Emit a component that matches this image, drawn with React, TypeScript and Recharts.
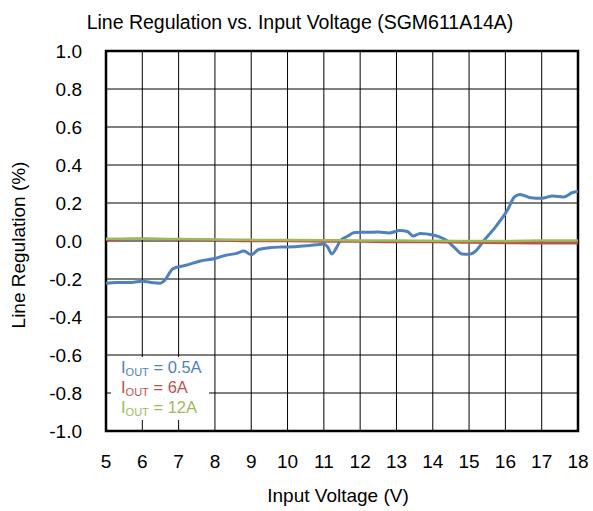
import { LineChart, Line, XAxis, YAxis, CartesianGrid, ReferenceArea, Label } from "recharts";

// IOUT = 0.5A
const voltsLight = [
  5.0, 5.3, 5.7, 6.0, 6.3, 6.5, 6.6, 6.85, 7.2, 7.6, 8.0, 8.3, 8.6, 8.8, 9.0, 9.2, 9.5, 9.8,
  10.2, 10.5, 10.8, 11.0, 11.1, 11.22, 11.35, 11.45, 11.65, 11.85, 12.2, 12.5, 12.8, 13.1, 13.3,
  13.46, 13.65, 14.0, 14.2, 14.4, 14.6, 14.8, 15.0, 15.15, 15.4, 15.75, 16.05, 16.25, 16.4, 16.7,
  17.0, 17.3, 17.6, 17.85, 18.0,
];
const regLight = [
  -0.222, -0.218, -0.218, -0.212, -0.22, -0.222, -0.21, -0.145, -0.128, -0.105, -0.092, -0.075,
  -0.065, -0.053, -0.072, -0.045, -0.036, -0.032, -0.03, -0.025, -0.02, -0.016, -0.03, -0.068,
  -0.035, 0.0, 0.025, 0.045, 0.046, 0.047, 0.042, 0.055, 0.05, 0.026, 0.04, 0.032, 0.02, 0.0,
  -0.035, -0.068, -0.07, -0.058, 0.0, 0.08, 0.16, 0.232, 0.245, 0.228, 0.225, 0.237, 0.232,
  0.255, 0.26,
];

// IOUT = 6A and 12A share the same input sweep
const voltsHeavy = [5, 6, 7, 8, 9, 10, 11, 12, 13, 14, 15, 16, 17, 18];
const regMid = [0.005, 0.012, 0.008, 0.005, 0.0, 0.0, -0.002, -0.003, -0.005, -0.005, -0.008, -0.01, -0.012, -0.012];
const regHigh = [0.012, 0.012, 0.01, 0.008, 0.006, 0.005, 0.004, 0.003, 0.002, 0.001, 0.0, 0.0, 0.002, 0.002];

const xTicks = [5, 6, 7, 8, 9, 10, 11, 12, 13, 14, 15, 16, 17, 18];
const yTicks = [-1.0, -0.8, -0.6, -0.4, -0.2, 0.0, 0.2, 0.4, 0.6, 0.8, 1.0];

const toRows = (xs: number[], ys: number[]) => xs.map((v, i) => ({ v, reg: ys[i] }));

const FONT = "'Liberation Sans', Arial, sans-serif";
const BLUE = "#4F81BD";
const RED = "#C0504D";
const GREEN = "#9BBB59";
const textStyle = { fontSize: 19, fill: "#000", fontFamily: FONT };

function LegendRow({ color, value }: { color: string; value: string }) {
  return (
    <div style={{ color, fontSize: 16.5, lineHeight: "20px", height: 20, whiteSpace: "nowrap" }}>
      I<sub style={{ fontSize: 11, verticalAlign: "-3px", lineHeight: 0 }}>OUT</sub> = {value}
    </div>
  );
}

export default function App() {
  return (
    <div style={{ position: "absolute", left: 0, top: 0, width: 593, height: 511, background: "#fff", fontFamily: FONT }}>
      <div style={{ position: "absolute", left: 0, top: 11, width: 600, textAlign: "center", fontSize: 19.5, color: "#000" }}>
        Line Regulation vs. Input Voltage (SGM611A14A)
      </div>
      <LineChart width={593} height={511} margin={{ top: 51, right: 15, bottom: 0, left: 0 }}>
        <CartesianGrid stroke="#000" strokeWidth={1} horizontalValues={yTicks} verticalValues={xTicks} />
        <XAxis
          type="number"
          dataKey="v"
          domain={[5, 18]}
          ticks={xTicks}
          height={80}
          tickLine={false}
          axisLine={false}
          tickMargin={18}
          tick={textStyle}
          allowDataOverflow
        >
          <Label value="Input Voltage (V)" position="insideBottom" offset={9} dx={-4} style={textStyle} />
        </XAxis>
        <YAxis
          type="number"
          domain={[-1, 1]}
          ticks={yTicks}
          width={106}
          tickLine={false}
          axisLine={false}
          tickMargin={18}
          tickFormatter={(t: number) => t.toFixed(1)}
          tick={textStyle}
          allowDataOverflow
        >
          <Label value="Line Regulation (%)" angle={-90} position="center" dx={-35} dy={4} style={{ ...textStyle, textAnchor: "middle" }} />
        </YAxis>
        <ReferenceArea x1={5} x2={18} y1={-1} y2={1} fill="none" stroke="#000" strokeWidth={2.5} ifOverflow="visible" />
        <Line data={toRows(voltsLight, regLight)} dataKey="reg" type="monotone" stroke={BLUE} strokeWidth={3} dot={false} isAnimationActive={false} />
        <Line data={toRows(voltsHeavy, regMid)} dataKey="reg" type="monotone" stroke={RED} strokeWidth={2.5} dot={false} isAnimationActive={false} />
        <Line data={toRows(voltsHeavy, regHigh)} dataKey="reg" type="monotone" stroke={GREEN} strokeWidth={2.5} dot={false} isAnimationActive={false} />
      </LineChart>
      <div style={{ position: "absolute", left: 111, top: 357, width: 98, height: 63, background: "#fff", paddingLeft: 10, boxSizing: "border-box" }}>
        <LegendRow color={BLUE} value="0.5A" />
        <LegendRow color={RED} value="6A" />
        <LegendRow color={GREEN} value="12A" />
      </div>
    </div>
  );
}
